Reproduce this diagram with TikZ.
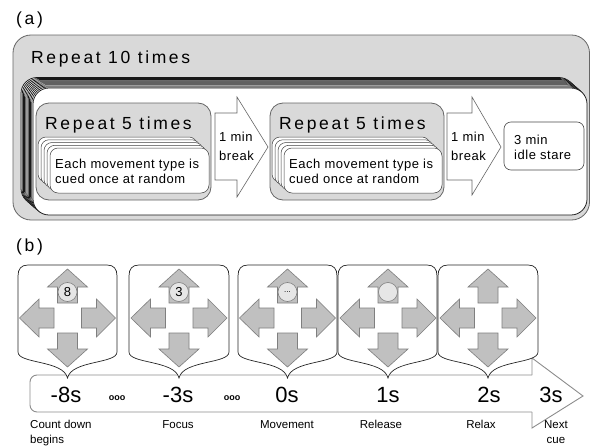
\documentclass[tikz,border=0pt]{standalone}
\usepackage{fontspec}
\setmainfont{Liberation Sans}
\newfontfamily\widefont[LetterSpace=15]{Liberation Sans}
\newfontfamily\spfont[LetterSpace=4]{Liberation Sans}
\definecolor{boxgray}{HTML}{D9D9D9}
\definecolor{linegray}{HTML}{666666}
\definecolor{icongray}{HTML}{C0C0C0}
\definecolor{iconline}{HTML}{7F7F7F}
\definecolor{circfill}{HTML}{E6E6E6}
\definecolor{tlgray}{HTML}{8C8C8C}
\begin{document}
\begin{tikzpicture}[x=1pt,y=-1pt,
  outerbox/.style={fill=boxgray, draw=linegray, line width=0.8pt, rounded corners=18pt},
  bigstack/.style={fill=white, draw=black!90, line width=0.75pt, rounded corners=16pt},
  repbox/.style={fill=boxgray, draw=linegray, line width=0.8pt, rounded corners=13pt},
  smallstack/.style={fill=white, draw=black!75, line width=0.5pt, rounded corners=8pt},
  blockarrow/.style={fill=white, draw=black!60, line width=0.6pt},
  idlebox/.style={fill=white, draw=black!70, line width=0.6pt, rounded corners=7pt},
  panelshape/.style={fill=white, draw=black!85, line width=0.7pt},
  icon/.style={fill=icongray, draw=iconline, line width=0.6pt},
  numcirc/.style={circle, minimum size=19pt, inner sep=0pt, fill=circfill, draw=iconline, line width=0.6pt, font=\fontsize{13}{15}\selectfont},
  timeline/.style={draw=tlgray, line width=0.9pt},
  lbl/.style={inner sep=0pt, anchor=base west},
  bigtxt/.style={lbl, font=\widefont\fontsize{17.5}{20}\selectfont},
  smalltxt/.style={lbl, font=\spfont\fontsize{13}{15}\selectfont},
  timetxt/.style={inner sep=0pt, anchor=base, font=\fontsize{22}{24}\selectfont},
  dotstxt/.style={inner sep=0pt, anchor=base, font=\bfseries\fontsize{9}{10}\selectfont},
  captxt/.style={inner sep=0pt, anchor=base, font=\fontsize{11.5}{13}\selectfont}
]
\useasboundingbox (0,0) rectangle (590,447);

% ---------------- (a) ----------------
\node[bigtxt] (la) at (16,24) {(a)};
\draw[outerbox] (13,35) rectangle (589.5,220);
\node[bigtxt] (r10) at (31,63.5) {Repeat 10 times};
\foreach \i in {10,9,...,0}{
  \draw[bigstack] ({33-1.2*\i},{88-1.05*\i}) rectangle ({587-1.2*\i},{215-1.05*\i});
}
% first repeat-5 block
\draw[repbox] (36,103) rectangle (211,200);
\node[bigtxt] (r5a) at (45,129.5) {Repeat 5 times};
\foreach \i in {4,3,...,0}{
  \draw[smallstack] ({50-3*\i},{148-2.75*\i}) rectangle ({209-3*\i},{193-2.75*\i});
}
\node[smalltxt] (ea1) at (55,168) {Each movement type is};
\node[smalltxt] (ea2) at (55,183) {cued once at random};
% first break arrow
\draw[blockarrow] (215,113) -- (237,113) -- (237,97) -- (268,147) -- (237,197) -- (237,180) -- (215,180) -- cycle;
\node[smalltxt] (b1a) at (219,141.5) {1 min};
\node[smalltxt] (b1b) at (219,160) {break};
% second repeat-5 block
\draw[repbox] (270,103) rectangle (444,200);
\node[bigtxt] (r5b) at (279,129.5) {Repeat 5 times};
\foreach \i in {4,3,...,0}{
  \draw[smallstack] ({284-3*\i},{148-2.75*\i}) rectangle ({442-3*\i},{193-2.75*\i});
}
\node[smalltxt] (eb1) at (289,168) {Each movement type is};
\node[smalltxt] (eb2) at (289,183) {cued once at random};
% second break arrow
\draw[blockarrow] (447,113) -- (472,113) -- (472,97) -- (501,147) -- (472,195) -- (472,180) -- (447,180) -- cycle;
\node[smalltxt] (b2a) at (451,141.5) {1 min};
\node[smalltxt] (b2b) at (451,160) {break};
% idle stare
\draw[idlebox] (504,122) rectangle (584,170);
\node[smalltxt] (id1) at (514,144) {3 min};
\node[smalltxt] (id2) at (514,159) {idle stare};

% ---------------- (b) ----------------
\node[bigtxt] (lb) at (16,251) {(b)};
% timeline arrow
\draw[timeline, rounded corners=7pt] (532,375) -- (30,375) -- (30,412) -- (532,412);
\draw[timeline, line join=miter] (532,375) -- (532,358) -- (583,396) -- (532,428) -- (532,412);
% panels
\foreach \L/\cx/\R in {18/67.5/117, 129/179/229, 238/287.5/337, 338/388/437, 438/488/538}{
  \draw[panelshape] (\L,352) -- (\L,276) .. controls (\L,269) and ({\L+3},265) .. ({\L+10},265)
     -- ({\R-10},265) .. controls ({\R-3},265) and (\R,269) .. (\R,276) -- (\R,352)
     .. controls (\R,364) and ({\cx+4},360) .. (\cx,378)
     .. controls ({\cx-4},360) and (\L,364) .. (\L,352) -- cycle;
  % up
  \draw[icon] (\cx,269) -- ({\cx+20},287) -- ({\cx+10},287) -- ({\cx+10},303) -- ({\cx-10},303) -- ({\cx-10},287) -- ({\cx-20},287) -- cycle;
  % down
  \draw[icon] (\cx,367) -- ({\cx+20},349) -- ({\cx+10},349) -- ({\cx+10},333) -- ({\cx-10},333) -- ({\cx-10},349) -- ({\cx-20},349) -- cycle;
  % left
  \draw[icon] ({\cx-48},318) -- ({\cx-28.5},299) -- ({\cx-28.5},308) -- ({\cx-13.5},308) -- ({\cx-13.5},328) -- ({\cx-28.5},328) -- ({\cx-28.5},337) -- cycle;
  % right
  \draw[icon] ({\cx+48},318) -- ({\cx+29},299) -- ({\cx+29},308) -- ({\cx+14},308) -- ({\cx+14},328) -- ({\cx+29},328) -- ({\cx+29},337) -- cycle;
}
\node[numcirc] (c1) at (67.5,292) {8};
\node[numcirc] (c2) at (179,292) {3};
\node[numcirc, font=\fontsize{8}{9}\selectfont] (c3) at (287.5,292) {...};
\node[numcirc] (c4) at (388,292) {};
% time labels
\node[timetxt] (t1) at (66,402.5) {-8s};
\node[timetxt] (t2) at (178,402.5) {-3s};
\node[timetxt] (t3) at (287,402.5) {0s};
\node[timetxt] (t4) at (388,402.5) {1s};
\node[timetxt] (t5) at (489,402.5) {2s};
\node[timetxt] (t6) at (551,402.5) {3s};
\node[dotstxt] (d1) at (117,400) {ooo};
\node[dotstxt] (d2) at (232,400) {ooo};
% captions
\node[captxt, anchor=base west] (k1a) at (30,428) {Count down};
\node[captxt, anchor=base west] (k1b) at (30,443) {begins};
\node[captxt] (k2) at (178,428) {Focus};
\node[captxt] (k3) at (287,428) {Movement};
\node[captxt] (k4) at (381,428) {Release};
\node[captxt] (k5) at (481,428) {Relax};
\node[captxt] (k6a) at (556,428) {Next};
\node[captxt] (k6b) at (556,443) {cue};
\end{tikzpicture}
\end{document}
